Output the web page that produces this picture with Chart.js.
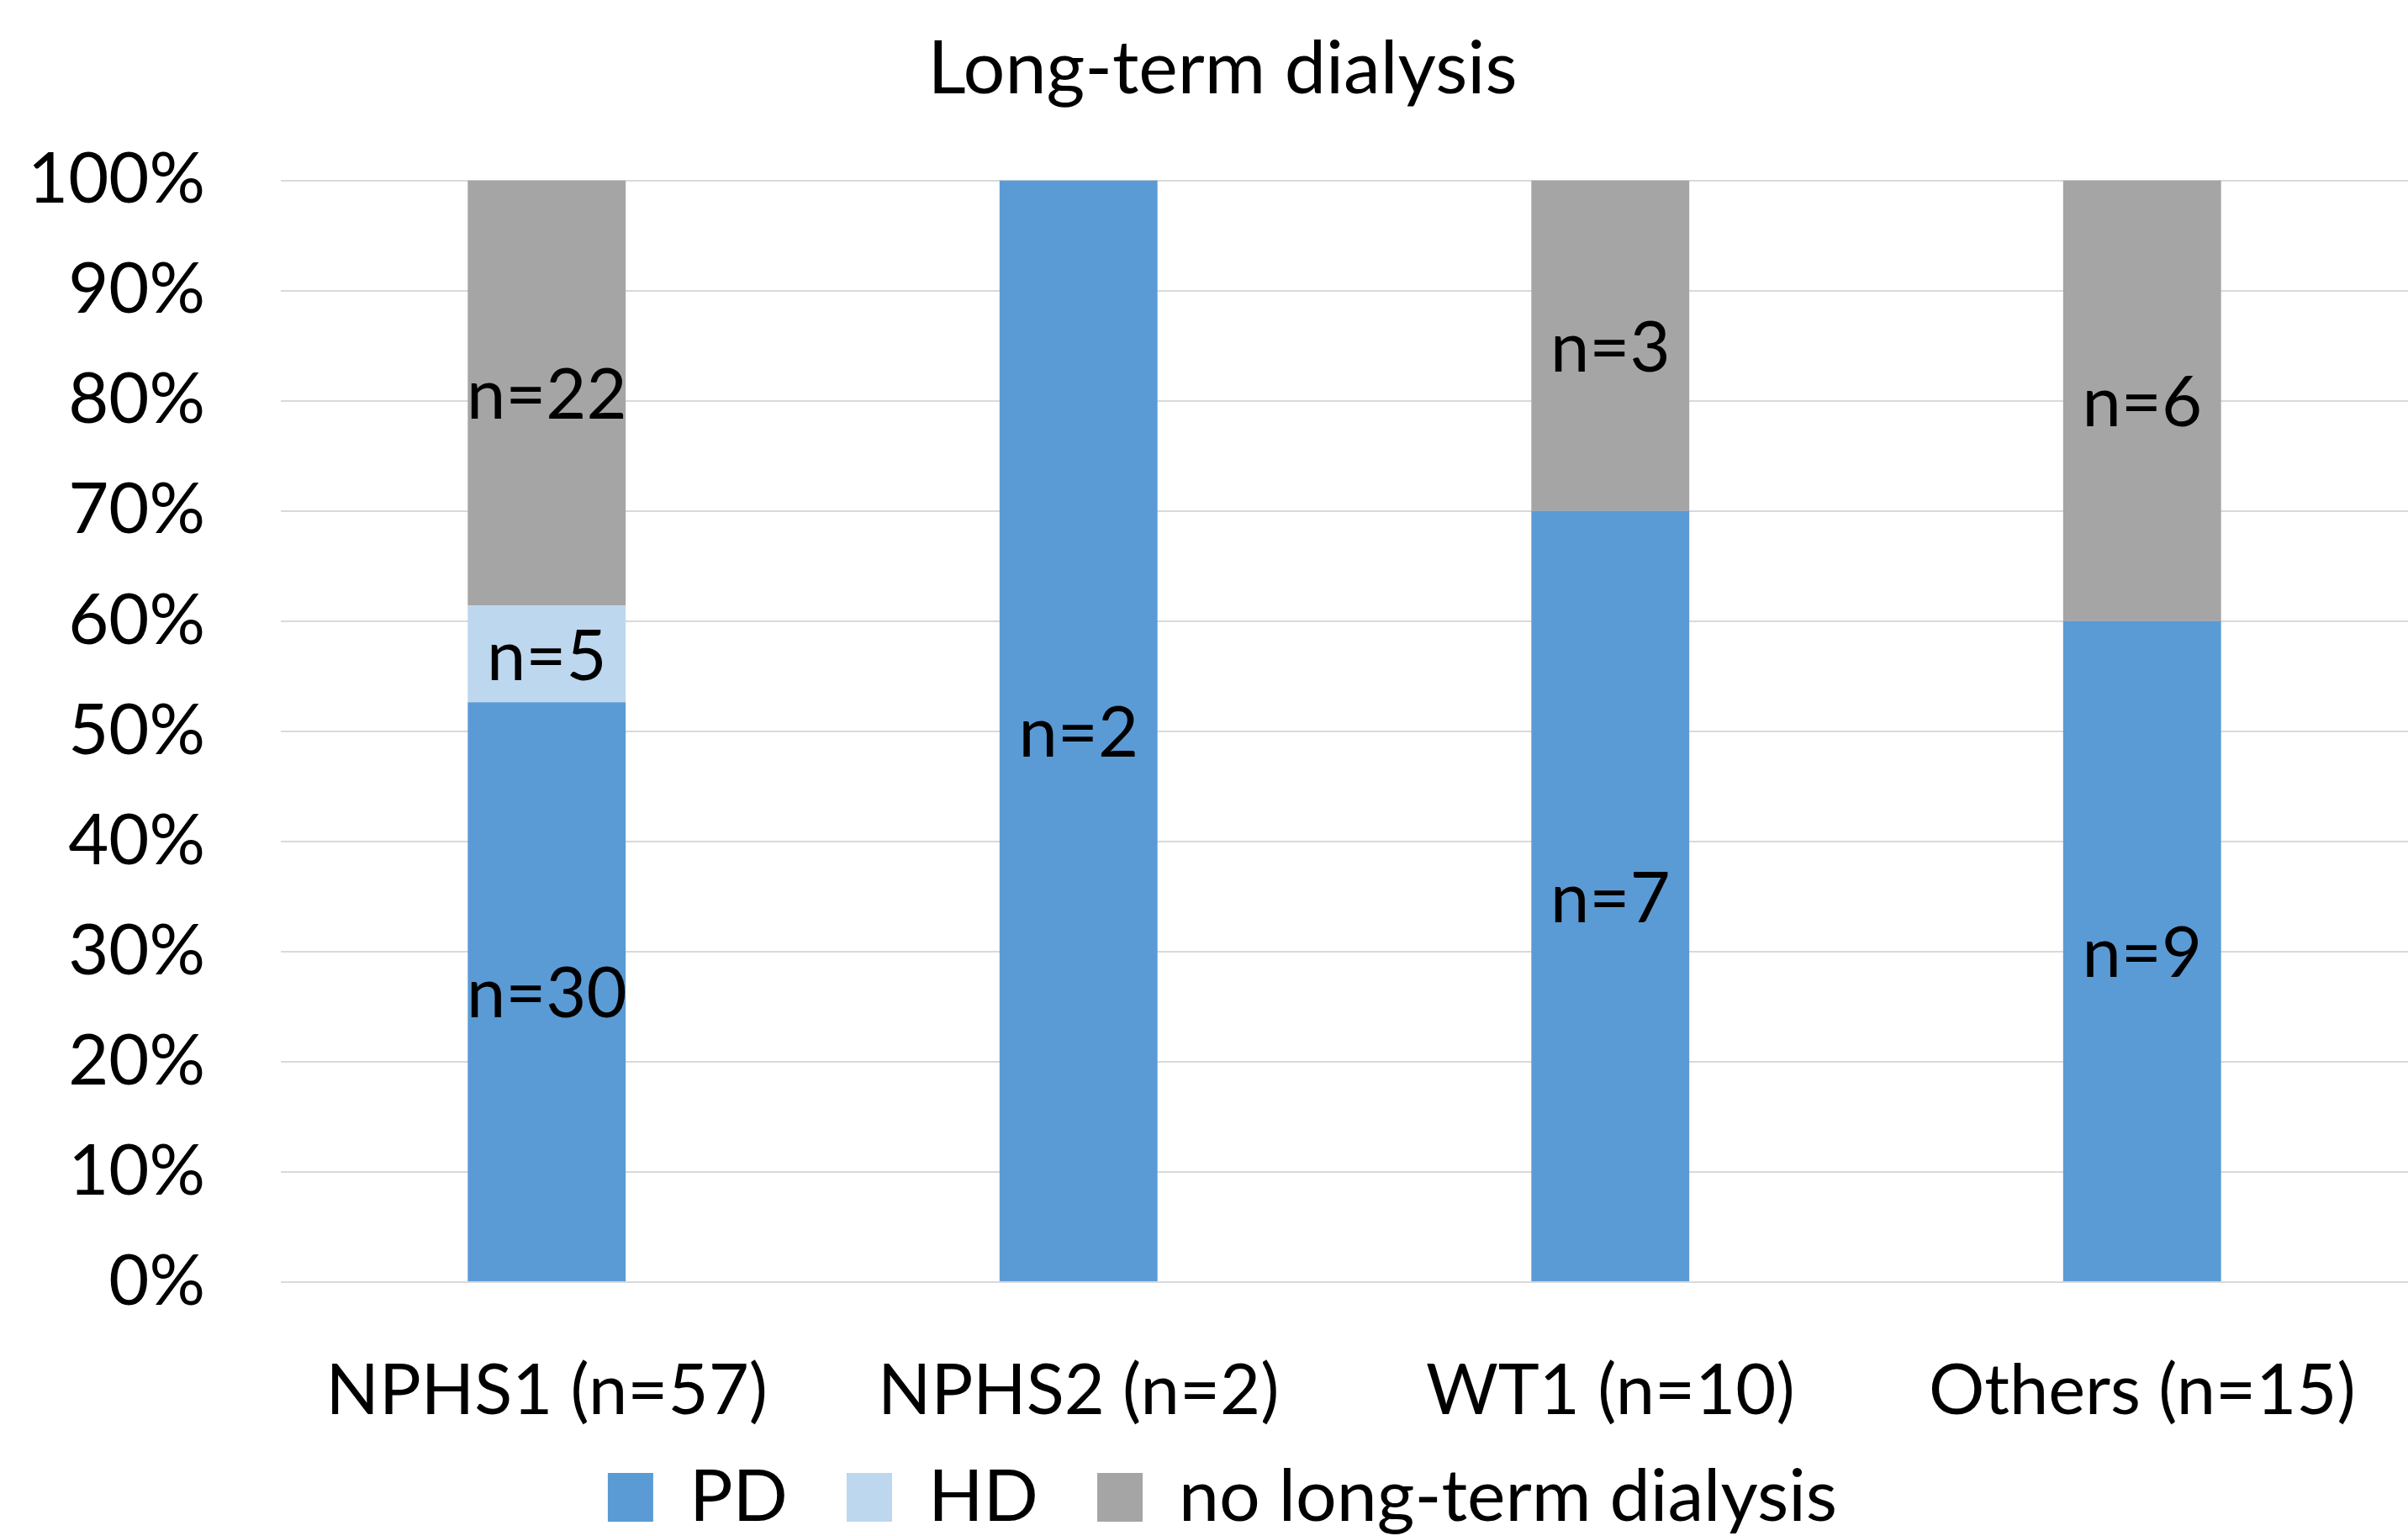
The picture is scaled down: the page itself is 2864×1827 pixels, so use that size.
<!DOCTYPE html>
<html>
<head>
<meta charset="utf-8">
<script src="https://cdn.jsdelivr.net/npm/chart.js@4/dist/chart.umd.min.js"></script>
<style>
  html, body { margin: 0; padding: 0; background: #fff; }
  #wrap { width: 2864px; height: 1827px; }
</style>
</head>
<body>
<div id="wrap"><canvas id="dialysis" width="2864" height="1827"></canvas></div>
<script>
// counts
const categories = ['NPHS1 (n=57)', 'NPHS2 (n=2)', 'WT1 (n=10)', 'Others (n=15)']
const pdCounts = [30, 2, 7, 9]
const hdCounts = [5, 0, 0, 0]
const noneCounts = [22, 0, 3, 6]
const yTickValues = [0, 10, 20, 30, 40, 50, 60, 70, 80, 90, 100]

const FONT = 'Lato'
const SIZE = 83

const totals = categories.map((c, i) => pdCounts[i] + hdCounts[i] + noneCounts[i])
const toShare = counts => counts.map((n, i) => n / totals[i] * 100)

Chart.defaults.color = '#000'
Chart.defaults.font.family = FONT

// "n=.." text in the middle of each segment
const countLabels = {
  id: 'countLabels',
  beforeDraw(chart) {
    // let tick labels run past their axis box instead of being cut off
    Object.values(chart.scales).forEach(s => { s._computeLabelArea = () => null })
  },
  afterDatasetsDraw(chart) {
    const ctx = chart.ctx
    ctx.save()
    ctx.font = SIZE + 'px ' + FONT
    ctx.fillStyle = '#000'
    ctx.textAlign = 'center'
    ctx.textBaseline = 'middle'
    chart.data.datasets.forEach((ds, i) => {
      chart.getDatasetMeta(i).data.forEach((bar, j) => {
        const n = ds.counts[j]
        if (!n) return
        ctx.fillText('n=' + n, bar.x, (bar.y + bar.base) / 2 + 4)
      })
    })
    ctx.restore()
  }
}

const makeSet = (label, counts, color) => ({
  label: label,
  data: toShare(counts),
  counts: counts,
  backgroundColor: color,
  borderWidth: 0,
  categoryPercentage: 1,
  barPercentage: 0.297
})

new Chart(document.querySelector('#dialysis'), {
  type: 'bar',
  data: {
    labels: categories,
    datasets: [
      makeSet('PD', pdCounts, '#5B9BD5'),
      makeSet('HD', hdCounts, '#BDD7EE'),
      makeSet('no long-term dialysis', noneCounts, '#A5A5A5')
    ]
  },
  options: {
    responsive: false,
    animation: false,
    devicePixelRatio: 1,
    layout: { padding: { left: 30, right: -14, top: 0, bottom: -7 } },
    plugins: {
      tooltip: { enabled: false },
      title: {
        display: true,
        text: 'Long-term dialysis',
        font: { size: 88, weight: 'normal' },
        color: '#000',
        padding: { top: 30, bottom: 79 }
      },
      legend: {
        position: 'bottom',
        labels: {
          font: { size: 86 },
          boxWidth: 54,
          boxHeight: 58,
          padding: 70,
          color: '#000'
        }
      }
    },
    scales: {
      x: {
        stacked: true,
        grid: { display: false },
        border: { display: false },
        ticks: { font: { size: SIZE }, padding: 72, maxRotation: 0 },
        afterFit(scale) {
          scale.height = 143
          // plot runs slightly past the right edge, as in the original
          scale.paddingLeft = 0
          scale.paddingRight = -14
        }
      },
      y: {
        stacked: true,
        min: 0,
        max: 100,
        afterBuildTicks(scale) { scale.ticks = yTickValues.map(v => ({ value: v })) },
        grid: { color: '#D9D9D9', lineWidth: 2, drawTicks: false },
        border: { display: false },
        ticks: {
          font: { size: SIZE },
          padding: 90,
          callback: v => v + '%'
        },
        afterFit(scale) {
          scale.width = 304
          scale.paddingRight = -14
        }
      }
    }
  },
  plugins: [countLabels]
})
</script>
</body>
</html>
